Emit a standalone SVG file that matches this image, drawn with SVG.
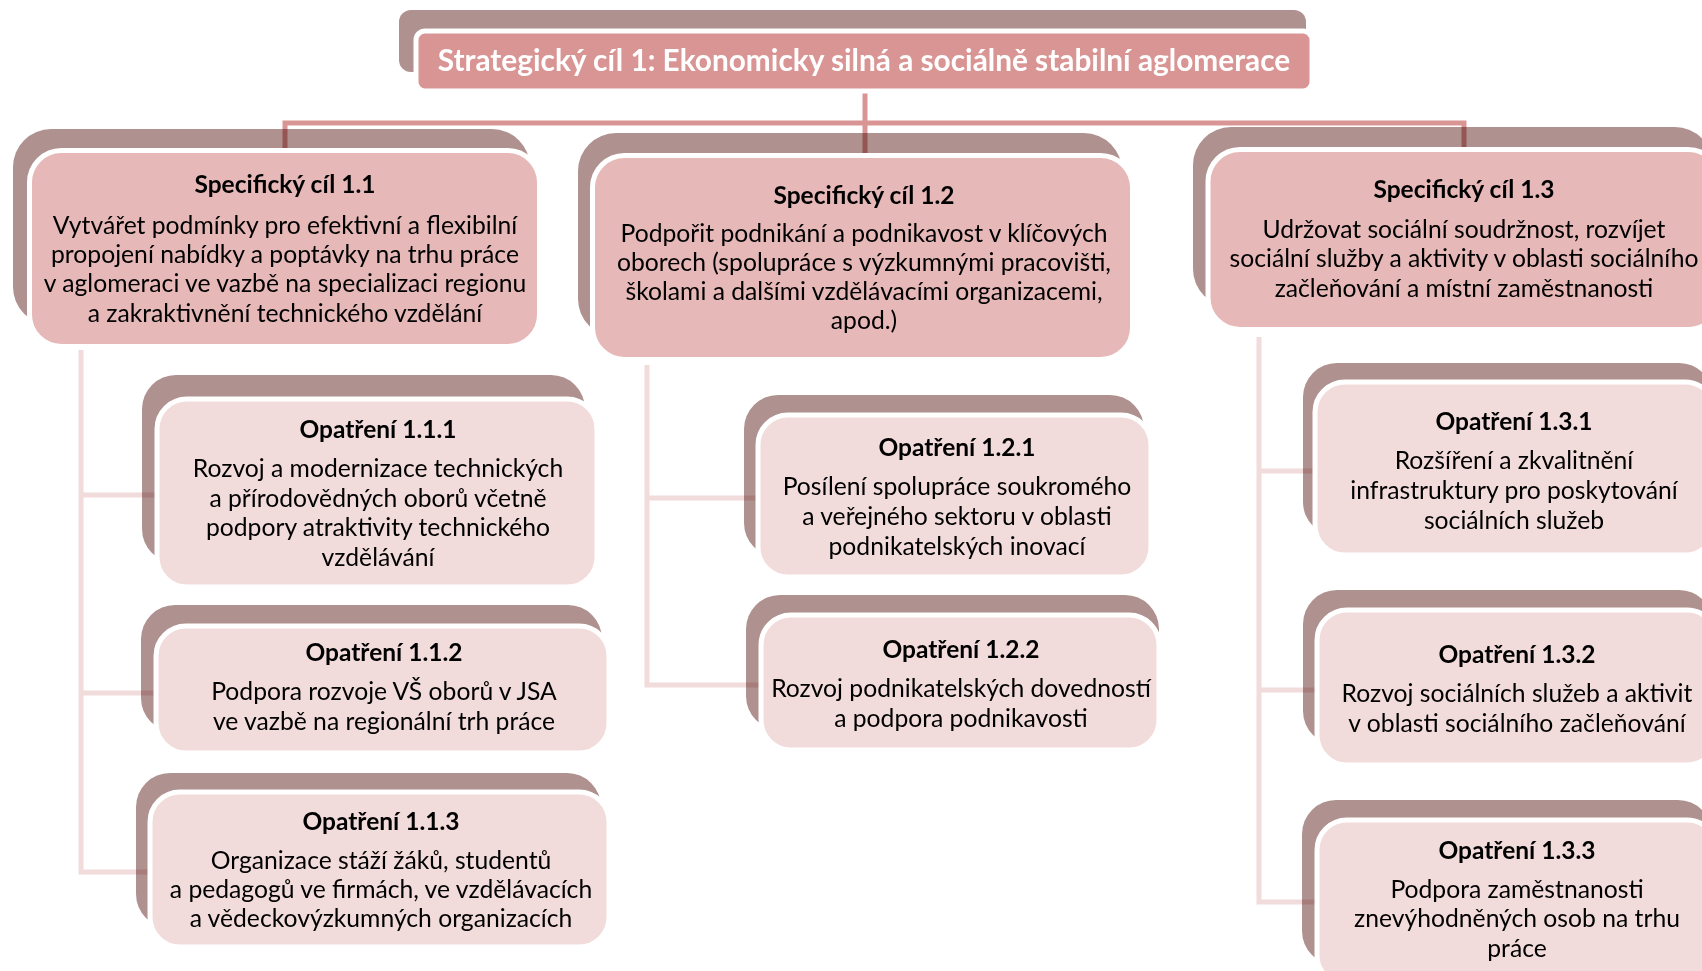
<svg xmlns="http://www.w3.org/2000/svg" width="1702" height="971" viewBox="0 0 1702 971">
<style>
.sh{fill:#AF918F}
.top{fill:#D99594;stroke:#fff;stroke-width:5}
.sc{fill:#E6B8B7;stroke:#fff;stroke-width:5}
.op{fill:#F2DCDB;stroke:#fff;stroke-width:5}
text{font-family:Lato,"Liberation Sans",sans-serif;text-anchor:middle;fill:#000;font-size:24.7px}
.t{font-weight:bold;font-size:24.5px}
.tt{font-weight:bold;fill:#fff;font-size:29.8px}
.c1{fill:none;stroke:#D99594;stroke-width:5}
.c2{fill:none;stroke:#F2DCDB;stroke-width:5}
#connectors{mix-blend-mode:multiply}
</style>
<rect width="1702" height="971" fill="#fff"/>
<g id="shadows">
<rect class="sh" x="399" y="10" width="907" height="62" rx="12"/>
<rect class="sh" x="13" y="129" width="517" height="196" rx="38"/>
<rect class="sh" x="578" y="133" width="544" height="204" rx="38"/>
<rect class="sh" x="1193" y="127" width="520" height="180" rx="38"/>
<rect class="sh" x="142" y="375" width="443" height="188" rx="34"/>
<rect class="sh" x="141" y="605" width="461" height="127" rx="34"/>
<rect class="sh" x="136" y="773" width="465" height="155" rx="34"/>
<rect class="sh" x="744" y="395" width="400" height="162" rx="34"/>
<rect class="sh" x="746" y="595" width="413" height="135" rx="34"/>
<rect class="sh" x="1303" y="363" width="410" height="173" rx="34"/>
<rect class="sh" x="1303" y="590" width="410" height="155" rx="34"/>
<rect class="sh" x="1302" y="800" width="410" height="165" rx="34"/>
</g>
<g id="connectors">
<path class="c1" d="M865,92 V157 M285,150 V123 H1464 V150"/>
<path class="c2" d="M81,350 V872 H152 M81,495 H158 M81,693 H158"/>
<path class="c2" d="M647,365 V685 H763 M647,498 H760"/>
<path class="c2" d="M1259,337 V902 H1318 M1259,471 H1316 M1259,690 H1318"/>
</g>
<g id="n-top">
<rect class="top" x="416" y="31" width="896" height="60" rx="9"/>
<text class="tt" x="864" y="71">Strategický cíl 1: Ekonomicky silná a sociálně stabilní aglomerace</text>
</g>
<g id="n-sc11">
<rect class="sc" x="29.5" y="150.5" width="510" height="196" rx="32"/>
<text class="t" x="285" y="193">Specifický cíl 1.1</text>
<text x="285" y="234">Vytvářet podmínky pro efektivní a flexibilní</text>
<text x="285" y="263">propojení nabídky a poptávky na trhu práce</text>
<text x="285" y="292">v aglomeraci ve vazbě na specializaci regionu</text>
<text x="285" y="322">a zakraktivnění technického vzdělání</text>
</g>
<g id="n-sc12">
<rect class="sc" x="592.5" y="155.5" width="540" height="204" rx="32"/>
<text class="t" x="864" y="204">Specifický cíl 1.2</text>
<text x="864" y="242">Podpořit podnikání a podnikavost v klíčových</text>
<text x="864" y="271">oborech (spolupráce s výzkumnými pracovišti,</text>
<text x="864" y="300">školami a dalšími vzdělávacími organizacemi,</text>
<text x="864" y="329">apod.)</text>
</g>
<g id="n-sc13">
<rect class="sc" x="1208" y="149.5" width="512" height="180" rx="32"/>
<text class="t" x="1464" y="198">Specifický cíl 1.3</text>
<text x="1464" y="238">Udržovat sociální soudržnost, rozvíjet</text>
<text x="1464" y="267">sociální služby a aktivity v oblasti sociálního</text>
<text x="1464" y="297">začleňování a místní zaměstnanosti</text>
</g>
<g id="n-op111">
<rect class="op" x="157" y="399" width="440" height="188" rx="30"/>
<text class="t" x="378" y="438">Opatření 1.1.1</text>
<text x="378" y="477">Rozvoj a modernizace technických</text>
<text x="378" y="507">a přírodovědných oborů včetně</text>
<text x="378" y="536">podpory atraktivity technického</text>
<text x="378" y="566">vzdělávání</text>
</g>
<g id="n-op112">
<rect class="op" x="156" y="626" width="453" height="127" rx="30"/>
<text class="t" x="384" y="661">Opatření 1.1.2</text>
<text x="384" y="700">Podpora rozvoje VŠ oborů v JSA</text>
<text x="384" y="730">ve vazbě na regionální trh práce</text>
</g>
<g id="n-op113">
<rect class="op" x="150" y="792" width="459" height="155" rx="30"/>
<text class="t" x="381" y="830">Opatření 1.1.3</text>
<text x="381" y="869">Organizace stáží žáků, studentů</text>
<text x="381" y="898">a pedagogů ve firmách, ve vzdělávacích</text>
<text x="381" y="927">a vědeckovýzkumných organizacích</text>
</g>
<g id="n-op121">
<rect class="op" x="758" y="415" width="393" height="162" rx="30"/>
<text class="t" x="957" y="456">Opatření 1.2.1</text>
<text x="957" y="495">Posílení spolupráce soukromého</text>
<text x="957" y="525">a veřejného sektoru v oblasti</text>
<text x="957" y="555">podnikatelských inovací</text>
</g>
<g id="n-op122">
<rect class="op" x="761" y="615" width="398" height="135" rx="30"/>
<text class="t" x="961" y="658">Opatření 1.2.2</text>
<text x="961" y="697">Rozvoj podnikatelských dovedností</text>
<text x="961" y="727">a podpora podnikavosti</text>
</g>
<g id="n-op131">
<rect class="op" x="1315" y="382" width="400" height="173" rx="30"/>
<text class="t" x="1514" y="430">Opatření 1.3.1</text>
<text x="1514" y="469">Rozšíření a zkvalitnění</text>
<text x="1514" y="499">infrastruktury pro poskytování</text>
<text x="1514" y="529">sociálních služeb</text>
</g>
<g id="n-op132">
<rect class="op" x="1317" y="610" width="400" height="155" rx="30"/>
<text class="t" x="1517" y="663">Opatření 1.3.2</text>
<text x="1517" y="702">Rozvoj sociálních služeb a aktivit</text>
<text x="1517" y="732">v oblasti sociálního začleňování</text>
</g>
<g id="n-op133">
<rect class="op" x="1317" y="820" width="400" height="165" rx="30"/>
<text class="t" x="1517" y="859">Opatření 1.3.3</text>
<text x="1517" y="898">Podpora zaměstnanosti</text>
<text x="1517" y="927">znevýhodněných osob na trhu</text>
<text x="1517" y="957">práce</text>
</g>
</svg>
